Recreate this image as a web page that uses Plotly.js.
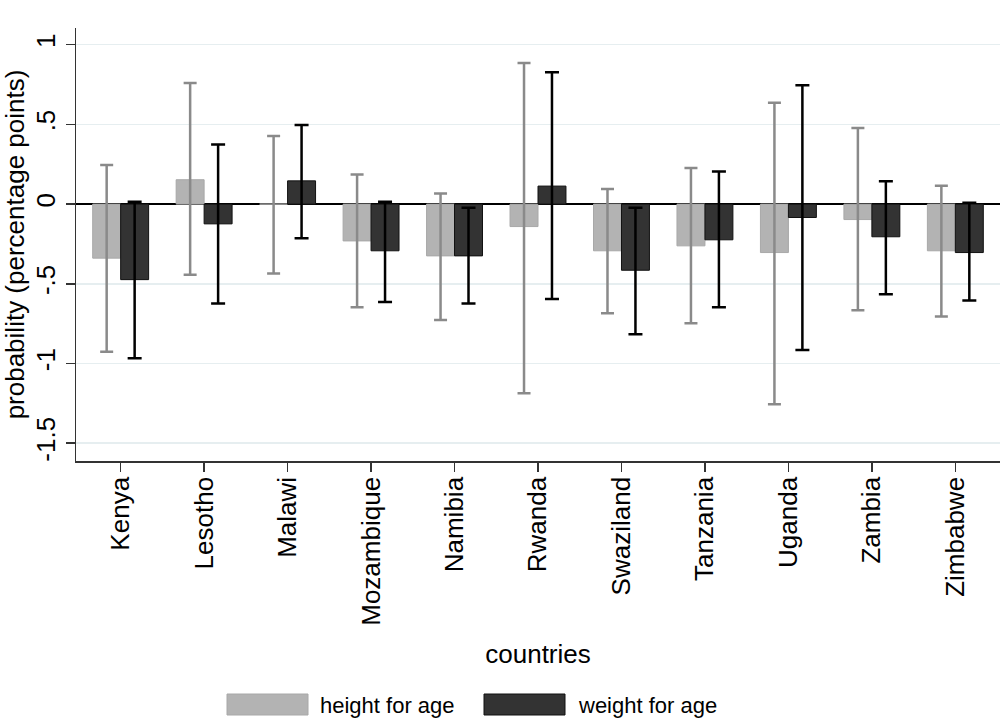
<!DOCTYPE html>
<html>
<head>
<meta charset="utf-8">
<script src="https://cdn.plot.ly/plotly-3.0.1.min.js"></script>
<style>html,body{margin:0;padding:0;background:#fff;}#chart{width:1002px;height:727px;}</style>
</head>
<body>
<div id="chart"></div>
<script>
const countries = ["Kenya","Lesotho","Malawi","Mozambique","Namibia","Rwanda","Swaziland","Tanzania","Uganda","Zambia","Zimbabwe"];
const hfaValue = [-0.339, 0.153, 0.0, -0.231, -0.325, -0.141, -0.293, -0.262, -0.304, -0.097, -0.293];
const hfaHigh  = [0.245, 0.760, 0.427, 0.186, 0.067, 0.886, 0.094, 0.226, 0.636, 0.477, 0.115];
const hfaLow   = [-0.926, -0.444, -0.436, -0.647, -0.727, -1.187, -0.685, -0.748, -1.256, -0.666, -0.706];
const wfaValue = [-0.474, -0.124, 0.146, -0.293, -0.325, 0.113, -0.415, -0.224, -0.084, -0.205, -0.304];
const wfaHigh  = [0.014, 0.374, 0.496, 0.014, -0.023, 0.827, -0.023, 0.205, 0.745, 0.144, 0.008];
const wfaLow   = [-0.967, -0.624, -0.214, -0.614, -0.624, -0.595, -0.817, -0.647, -0.915, -0.565, -0.605];
const yTickVals = [-1.5, -1, -0.5, 0, 0.5, 1];
const yTickText = ["-1.5", "-1", "-.5", "0", ".5", "1"];
const seriesNames = ["height for age", "weight for age"];

const FONT = "Liberation Sans, Arial, sans-serif";

const traces = [
  {
    type: "bar", name: seriesNames[0], x: countries, y: hfaValue,
    marker: {color: "#b3b3b3", line: {color: "#a8a8a8", width: 1}},
    error_y: {type: "data", symmetric: false,
      array: hfaHigh.map((h, i) => h - hfaValue[i]),
      arrayminus: hfaLow.map((l, i) => hfaValue[i] - l),
      color: "#8a8a8a", thickness: 2.5, width: 6.5},
    showlegend: false, hoverinfo: "x+y"
  },
  {
    type: "bar", name: seriesNames[1], x: countries, y: wfaValue,
    marker: {color: "#333333", line: {color: "#111111", width: 1}},
    error_y: {type: "data", symmetric: false,
      array: wfaHigh.map((h, i) => h - wfaValue[i]),
      arrayminus: wfaLow.map((l, i) => wfaValue[i] - l),
      color: "#000000", thickness: 2.5, width: 7},
    showlegend: false, hoverinfo: "x+y"
  }
];

const layout = {
  width: 1002, height: 727,
  paper_bgcolor: "#ffffff", plot_bgcolor: "#ffffff",
  font: {family: FONT, color: "#000000", size: 26},
  margin: {l: 76, r: 2, t: 28, b: 266, pad: 0},
  barmode: "group", bargap: 0.33, bargroupgap: 0,
  showlegend: false,
  xaxis: {
    type: "category", range: [-0.535, 10.535],
    showline: true, linecolor: "#333333", linewidth: 1.5,
    ticks: "outside", ticklen: 9, tickwidth: 1.5, tickcolor: "#333333",
    ticklabelstandoff: -5,
    tickangle: -90, tickfont: {family: FONT, size: 26, color: "#000"},
    showgrid: false, zeroline: false,
    title: {text: "countries", font: {family: FONT, size: 26, color: "#000"}, standoff: 20}
  },
  yaxis: {
    range: [-1.612, 1.105],
    tickvals: yTickVals, ticktext: yTickText,
    showline: true, linecolor: "#333333", linewidth: 1.5,
    ticks: "outside", ticklen: 9, tickwidth: 1.5, tickcolor: "#333333",
    tickangle: -90, tickfont: {family: FONT, size: 26, color: "#000"},
    showgrid: true, gridcolor: "#e6eef0", gridwidth: 1.5,
    zeroline: true, zerolinecolor: "#000000", zerolinewidth: 2,
    title: {text: "probability (percentage points)", font: {family: FONT, size: 26, color: "#000"}, standoff: 6}
  },
  shapes: [
    {type: "rect", xref: "paper", yref: "paper", layer: "above",
     x0: (227 - 76) / 924, x1: (308 - 76) / 924, y0: -(694 - 461) / 433, y1: -(715 - 461) / 433,
     fillcolor: "#b3b3b3", line: {color: "#a8a8a8", width: 1}},
    {type: "rect", xref: "paper", yref: "paper", layer: "above",
     x0: (484 - 76) / 924, x1: (565 - 76) / 924, y0: -(694 - 461) / 433, y1: -(715 - 461) / 433,
     fillcolor: "#333333", line: {color: "#111111", width: 1}}
  ],
  annotations: [
    {xref: "paper", yref: "paper", x: (318 - 76) / 924, y: -(705 - 461) / 433,
     xanchor: "left", yanchor: "middle", showarrow: false, text: seriesNames[0],
     font: {family: FONT, size: 22, color: "#000"}},
    {xref: "paper", yref: "paper", x: (576 - 76) / 924, y: -(705 - 461) / 433,
     xanchor: "left", yanchor: "middle", showarrow: false, text: seriesNames[1],
     font: {family: FONT, size: 22, color: "#000"}}
  ]
};

Plotly.newPlot("chart", traces, layout, {displayModeBar: false, staticPlot: true});
</script>
</body>
</html>
